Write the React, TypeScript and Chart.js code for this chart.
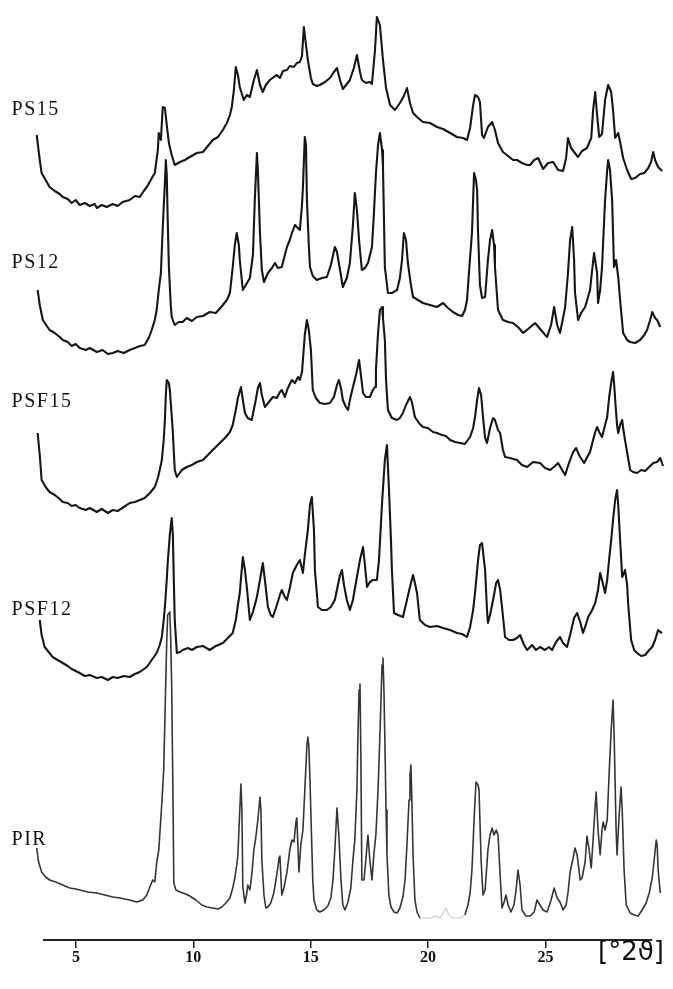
import React, { useEffect, useRef } from 'react';
import { Chart, registerables } from 'chart.js';

Chart.register(...registerables);

// ---- axis / labels ----
const TWO_THETA_TICKS = [5, 10, 15, 20, 25];
const X_MIN = 3.3;
const X_MAX = 30.05;
const AXIS_START = 3.6;
const AXIS_END = 29.55;
const AXIS_TITLE = '[°2ϑ]';
const SERIES_NAMES = ['PS15', 'PS12', 'PSF15', 'PSF12', 'PIR'];
const LABEL_2THETA = 2.26;
const LABEL_LEVEL = [830, 677, 538, 330, 100];
const PIR_FAINT_FROM = 19.6;
const PIR_FAINT_TO = 21.6;

// ---- PS15 ----
const PS15_X = [3.33,3.46,3.54,3.71,3.88,4.10,4.31,4.44,4.65,4.82,
4.99,5.16,5.38,5.59,5.80,5.89,6.10,6.31,6.57,6.78,
6.99,7.29,7.51,7.72,7.89,8.02,8.19,8.36,8.49,8.53,
8.62,8.70,8.79,8.87,8.96,9.08,9.21,9.43,9.64,9.85,
10.15,10.41,10.62,10.83,11.05,11.26,11.43,11.56,11.64,11.73,
11.81,11.90,11.98,12.15,12.28,12.41,12.58,12.71,12.84,12.96,
13.09,13.26,13.43,13.56,13.69,13.82,13.99,14.11,14.29,14.41,
14.54,14.63,14.71,14.80,14.88,15.01,15.09,15.26,15.39,15.61,
15.82,15.99,16.12,16.25,16.37,16.54,16.67,16.84,16.97,17.10,
17.18,17.35,17.52,17.61,17.74,17.82,17.95,18.08,18.21,18.38,
18.59,18.80,18.97,19.10,19.23,19.36,19.53,19.78,20.08,20.38,
20.64,20.94,21.23,21.49,21.66,21.79,21.92,22.00,22.13,22.21,
22.30,22.38,22.55,22.73,22.85,22.98,23.19,23.41,23.62,23.79,
24.00,24.22,24.35,24.52,24.69,24.90,25.11,25.33,25.54,25.75,
25.88,25.96,26.09,26.22,26.39,26.56,26.77,26.95,27.03,27.12,
27.20,27.29,27.41,27.54,27.67,27.80,27.88,27.97,28.10,28.18,
28.31,28.48,28.65,28.82,29.03,29.21,29.38,29.50,29.59,29.67,
29.80,29.97];
const PS15_Y = [805,780,767,760,753,749,746,743,741,737,
740,735,737,734,736,732,735,733,736,734,
738,740,744,743,749,753,760,767,790,807,
800,833,832,815,797,785,775,778,780,783,
787,788,794,800,803,810,817,825,833,850,
873,865,853,840,845,843,860,870,855,848,
855,860,863,865,862,869,870,874,873,877,
878,884,913,895,880,862,856,854,855,858,
862,868,872,860,851,856,860,872,885,868,
860,857,858,856,890,923,915,880,852,835,
830,837,844,852,837,827,823,818,817,813,
811,807,803,802,800,812,835,845,843,838,
805,802,813,818,810,797,788,784,780,780,
777,775,775,780,782,771,777,778,770,769,
782,802,792,788,783,789,792,802,830,848,
825,803,806,840,855,848,830,802,807,798,
782,770,761,762,766,767,772,778,788,780,
773,769];

// ---- PS12 ----
const PS12_X = [3.37,3.46,3.59,3.76,3.88,4.10,4.31,4.44,4.65,4.82,
4.99,5.16,5.42,5.59,5.89,6.14,6.36,6.57,6.78,7.04,
7.29,7.51,7.72,7.93,8.10,8.23,8.36,8.44,8.53,8.62,
8.70,8.79,8.83,8.87,8.91,8.96,9.04,9.08,9.21,9.38,
9.55,9.72,9.94,10.15,10.41,10.70,10.96,11.26,11.43,11.56,
11.68,11.77,11.85,11.94,11.98,12.11,12.24,12.41,12.54,12.62,
12.71,12.75,12.84,12.92,13.01,13.18,13.35,13.48,13.60,13.77,
13.90,13.99,14.11,14.20,14.33,14.41,14.54,14.63,14.67,14.75,
14.80,14.84,14.92,14.97,15.09,15.26,15.48,15.69,15.86,16.03,
16.12,16.25,16.37,16.54,16.67,16.80,16.88,16.97,17.06,17.18,
17.31,17.44,17.61,17.69,17.78,17.87,17.95,18.04,18.08,18.16,
18.29,18.46,18.68,18.80,18.89,18.97,19.06,19.14,19.27,19.36,
19.57,19.78,20.08,20.38,20.64,20.85,21.06,21.28,21.45,21.57,
21.66,21.75,21.87,21.96,22.04,22.09,22.13,22.21,22.30,22.43,
22.55,22.64,22.73,22.81,22.85,22.98,23.19,23.41,23.62,23.83,
24.05,24.26,24.56,24.81,25.07,25.24,25.37,25.50,25.62,25.75,
25.84,25.96,26.05,26.14,26.22,26.26,26.39,26.52,26.69,26.90,
26.99,27.07,27.20,27.24,27.33,27.41,27.54,27.63,27.67,27.75,
27.84,27.92,28.01,28.10,28.18,28.31,28.48,28.61,28.82,29.03,
29.21,29.33,29.46,29.55,29.67,29.76,29.89];
const PS12_Y = [650,635,620,614,610,607,603,600,598,594,
596,592,590,592,588,590,586,587,589,587,
590,592,594,595,602,610,620,630,650,667,
713,757,780,765,720,673,635,623,615,618,
618,622,619,623,624,628,627,635,640,647,
673,695,707,695,680,650,655,662,685,740,
787,770,707,670,658,667,672,677,672,673,
685,693,700,707,715,713,710,735,753,803,
795,740,695,673,664,660,662,663,675,693,
688,670,653,662,677,715,747,730,700,670,
672,677,693,725,767,795,807,790,773,673,
647,647,650,662,680,707,700,677,655,643,
640,637,635,633,637,632,628,625,624,630,
640,670,707,767,760,750,707,655,642,643,
680,700,710,695,673,630,620,618,617,613,
607,611,617,610,603,615,633,615,607,622,
633,667,700,713,680,647,620,627,633,650,
670,687,667,637,650,673,740,770,780,770,
740,673,680,663,640,607,600,598,597,600,
605,610,620,628,622,620,613];

// ---- PSF15 ----
const PSF15_X = [3.37,3.46,3.54,3.71,3.88,4.10,4.31,4.44,4.65,4.82,
4.99,5.16,5.42,5.59,5.89,6.10,6.36,6.57,6.78,7.04,
7.29,7.51,7.72,7.93,8.15,8.36,8.49,8.57,8.66,8.74,
8.79,8.83,8.87,8.96,9.00,9.08,9.13,9.21,9.30,9.51,
9.72,9.94,10.15,10.41,10.62,10.87,11.13,11.39,11.56,11.68,
11.81,11.90,12.03,12.11,12.20,12.32,12.49,12.66,12.75,12.84,
12.92,13.05,13.22,13.39,13.56,13.69,13.77,13.90,14.03,14.20,
14.33,14.46,14.54,14.63,14.67,14.75,14.84,14.92,15.01,15.09,
15.22,15.39,15.61,15.82,15.99,16.12,16.20,16.29,16.37,16.50,
16.59,16.67,16.80,16.93,17.06,17.14,17.23,17.35,17.52,17.65,
17.74,17.78,17.87,17.95,18.04,18.08,18.16,18.21,18.29,18.46,
18.68,18.80,18.93,19.06,19.23,19.31,19.44,19.61,19.78,19.99,
20.21,20.38,20.59,20.76,20.94,21.15,21.36,21.57,21.79,21.92,
22.00,22.09,22.17,22.26,22.34,22.43,22.51,22.64,22.77,22.85,
22.98,23.07,23.19,23.28,23.49,23.79,24.00,24.22,24.47,24.77,
24.98,25.20,25.41,25.54,25.71,25.84,25.96,26.05,26.18,26.31,
26.39,26.48,26.65,26.78,26.90,27.03,27.12,27.20,27.29,27.41,
27.54,27.63,27.71,27.80,27.88,27.93,27.97,28.05,28.10,28.18,
28.27,28.31,28.39,28.52,28.61,28.73,28.90,29.08,29.25,29.42,
29.59,29.76,29.89,30.01];
const PSF15_Y = [507,485,460,453,448,445,441,438,437,434,
435,432,430,432,428,431,427,430,429,433,
437,438,440,442,447,453,462,470,480,500,
520,545,560,557,550,525,507,470,463,470,
473,475,478,480,485,491,497,503,508,515,
530,542,553,540,527,522,520,540,552,557,
545,533,538,543,542,548,550,543,552,560,
557,563,560,568,580,605,620,610,590,550,
542,537,536,537,543,555,560,552,540,533,
530,540,553,565,580,565,547,543,543,550,
553,570,607,630,633,622,600,560,530,522,
520,522,527,535,543,538,523,517,513,512,
508,507,505,504,500,498,497,496,503,512,
523,540,552,545,523,502,497,512,522,520,
510,507,490,483,482,480,475,473,478,477,
472,470,474,477,470,465,474,480,488,492,
487,483,477,483,488,500,508,513,508,503,
515,523,542,557,568,555,540,515,507,515,
520,512,500,482,470,468,467,470,469,473,
477,478,482,474];

// ---- PSF12 ----
const PSF12_X = [3.46,3.54,3.67,3.84,4.01,4.22,4.44,4.65,4.82,4.99,
5.16,5.38,5.59,5.89,6.10,6.36,6.57,6.78,7.04,7.29,
7.51,7.72,8.02,8.23,8.44,8.57,8.66,8.74,8.79,8.87,
8.91,9.00,9.08,9.13,9.17,9.21,9.30,9.43,9.55,9.77,
9.94,10.15,10.41,10.70,10.96,11.26,11.47,11.68,11.81,11.90,
11.98,12.11,12.20,12.28,12.41,12.54,12.71,12.84,12.96,13.05,
13.18,13.30,13.39,13.56,13.69,13.77,13.90,13.99,14.11,14.24,
14.41,14.54,14.67,14.75,14.88,14.97,15.05,15.14,15.18,15.31,
15.48,15.69,15.86,16.03,16.16,16.25,16.33,16.42,16.54,16.67,
16.80,16.97,17.10,17.23,17.31,17.40,17.52,17.65,17.82,17.91,
18.04,18.16,18.25,18.33,18.42,18.46,18.55,18.72,18.93,19.10,
19.23,19.36,19.44,19.53,19.65,19.87,20.08,20.38,20.64,20.94,
21.23,21.45,21.66,21.79,21.92,22.00,22.13,22.21,22.30,22.38,
22.43,22.51,22.55,22.64,22.77,22.90,22.98,23.07,23.15,23.28,
23.45,23.62,23.79,23.92,24.09,24.22,24.43,24.60,24.77,24.98,
25.15,25.28,25.45,25.62,25.75,25.92,26.05,26.22,26.35,26.48,
26.60,26.73,26.82,26.99,27.12,27.24,27.33,27.41,27.54,27.63,
27.71,27.80,27.88,27.97,28.05,28.10,28.18,28.27,28.31,28.39,
28.48,28.52,28.65,28.78,28.90,29.08,29.25,29.42,29.55,29.67,
29.80,29.89,29.97];
const PSF12_Y = [320,305,293,288,283,280,277,274,271,269,
267,264,265,262,263,260,263,262,264,263,
266,268,273,280,287,295,303,320,333,360,
377,405,422,405,360,320,287,288,290,292,
290,293,294,290,294,297,302,307,320,335,
347,383,370,353,320,328,343,360,377,360,
333,325,323,335,345,350,343,340,352,367,
375,380,367,385,410,435,443,410,370,333,
330,330,333,340,355,365,370,355,340,330,
340,363,380,393,375,353,358,360,360,380,
437,480,495,453,400,370,327,325,323,340,
353,365,357,347,320,315,313,314,312,310,
307,306,303,313,330,347,380,395,397,380,
370,330,317,325,340,357,360,350,333,303,
300,300,302,305,295,290,295,290,293,290,
293,290,298,303,297,293,305,322,327,318,
307,316,323,330,337,350,367,360,347,360,
380,400,420,440,450,435,400,363,365,370,
355,337,300,290,287,284,285,290,293,300,
310,308,307];

// ---- PIR ----
const PIR_X = [3.33,3.41,3.54,3.71,3.88,4.14,4.44,4.74,4.99,5.16,
5.50,5.89,6.23,6.57,6.87,7.29,7.59,7.85,8.02,8.15,
8.27,8.36,8.44,8.53,8.66,8.74,8.79,8.87,8.91,9.00,
9.04,9.08,9.13,9.17,9.26,9.43,9.68,9.85,10.11,10.36,
10.58,10.83,11.05,11.22,11.39,11.56,11.68,11.77,11.85,11.90,
11.98,12.03,12.07,12.11,12.20,12.28,12.32,12.41,12.49,12.58,
12.66,12.75,12.84,12.88,12.92,13.01,13.09,13.18,13.30,13.43,
13.52,13.60,13.65,13.69,13.77,13.86,13.99,14.11,14.20,14.29,
14.37,14.41,14.50,14.58,14.67,14.75,14.84,14.88,14.92,14.97,
15.01,15.09,15.14,15.26,15.39,15.56,15.73,15.86,15.95,16.03,
16.12,16.20,16.29,16.37,16.46,16.59,16.71,16.80,16.88,16.97,
17.01,17.06,17.10,17.14,17.18,17.27,17.35,17.44,17.52,17.61,
17.69,17.78,17.87,17.95,18.04,18.08,18.12,18.16,18.21,18.25,
18.33,18.42,18.55,18.68,18.80,18.93,19.02,19.10,19.19,19.23,
19.27,19.31,19.36,19.44,19.53,19.65,20.08,20.33,20.50,20.68,
20.76,20.85,21.02,21.36,21.57,21.70,21.79,21.87,21.96,22.04,
22.13,22.17,22.26,22.34,22.43,22.55,22.64,22.73,22.81,22.90,
22.98,23.07,23.15,23.24,23.32,23.41,23.53,23.66,23.75,23.83,
23.92,24.00,24.17,24.35,24.52,24.64,24.77,24.90,25.07,25.24,
25.37,25.50,25.62,25.75,25.88,25.96,26.05,26.18,26.26,26.35,
26.48,26.56,26.69,26.77,26.86,26.95,27.03,27.12,27.16,27.24,
27.33,27.41,27.46,27.54,27.63,27.71,27.80,27.88,27.93,28.01,
28.05,28.14,28.22,28.27,28.35,28.44,28.61,28.78,28.95,29.12,
29.29,29.42,29.55,29.63,29.72,29.76,29.80,29.89];
const PIR_Y = [92,78,68,63,60,58,55,52,51,50,
48,47,45,43,42,40,38,40,45,53,
60,58,77,90,137,170,220,300,325,328,
300,253,153,57,50,48,46,44,40,35,
33,32,31,33,37,42,52,62,75,85,
130,156,130,53,37,47,55,50,65,90,
102,120,143,130,80,45,32,33,37,47,
60,72,82,84,45,52,68,90,100,98,
118,122,68,95,110,150,195,203,195,160,
125,60,40,30,28,30,34,42,60,90,
132,105,60,35,30,38,52,80,100,150,
200,250,256,180,60,60,80,105,80,60,
85,106,150,205,275,282,250,200,130,85,
45,33,28,27,32,43,60,95,140,165,
175,140,85,40,28,22,22,24,22,28,
32,27,22,22,25,35,47,70,120,158,
155,150,80,45,50,90,105,112,105,110,
105,65,32,38,45,35,28,35,50,70,
55,30,24,24,28,40,35,30,28,40,
52,42,38,30,35,47,68,82,92,85,
60,62,78,104,90,72,100,135,148,110,
85,110,118,110,120,165,210,240,200,110,
85,125,153,130,70,35,27,25,24,30,
37,47,62,80,100,95,70,47];

const SERIES_X = [PS15_X, PS12_X, PSF15_X, PSF12_X, PIR_X];
const SERIES_Y = [PS15_Y, PS12_Y, PSF15_Y, PSF12_Y, PIR_Y];

export default function App() {
  const canvasRef = useRef<HTMLCanvasElement | null>(null);

  useEffect(() => {
    const canvas = canvasRef.current;
    if (!canvas) return;

    const datasets = SERIES_NAMES.map((name, i) => {
      const isPir = name === 'PIR';
      return {
        label: name,
        data: SERIES_X[i].map((x, j) => ({ x, y: SERIES_Y[i][j] })),
        borderColor: isPir ? '#353535' : '#161616',
        borderWidth: isPir ? 1.6 : 2.1,
        pointRadius: 0,
        pointHoverRadius: 0,
        tension: 0,
        fill: false,
        clip: false,
        borderJoinStyle: 'round' as const,
        segment: isPir
          ? {
              borderColor: (ctx: any) =>
                ctx.p0.parsed.x >= PIR_FAINT_FROM && ctx.p1.parsed.x <= PIR_FAINT_TO
                  ? 'rgba(0,0,0,0.15)'
                  : undefined,
            }
          : undefined,
      };
    });

    const decor = {
      id: 'decor',
      afterDraw(chart: any) {
        const { ctx, chartArea, scales } = chart;
        const xs = scales.x;
        const ys = scales.y;
        ctx.save();
        ctx.strokeStyle = '#222';
        ctx.lineWidth = 2;
        ctx.beginPath();
        ctx.moveTo(xs.getPixelForValue(AXIS_START), chartArea.bottom);
        ctx.lineTo(xs.getPixelForValue(AXIS_END), chartArea.bottom);
        ctx.stroke();

        ctx.fillStyle = '#111';
        ctx.textAlign = 'left';
        ctx.textBaseline = 'middle';
        ctx.font = '20px "Liberation Serif", serif';
        try { (ctx as any).letterSpacing = '1.5px'; } catch (e) { /* ignore */ }
        SERIES_NAMES.forEach((n, i) => {
          ctx.fillText(n, xs.getPixelForValue(LABEL_2THETA), ys.getPixelForValue(LABEL_LEVEL[i]));
        });
        try { (ctx as any).letterSpacing = '0px'; } catch (e) { /* ignore */ }

        ctx.font = '26px "DejaVu Sans", sans-serif';
        ctx.textAlign = 'right';
        ctx.fillText(AXIS_TITLE, chartArea.right, chartArea.bottom + 13);
        ctx.restore();
      },
    };

    const chart = new Chart(canvas, {
      type: 'line',
      data: { datasets },
      options: {
        animation: false,
        responsive: false,
        events: [],
        layout: { padding: { left: 36, right: 9, top: 0, bottom: 19 } },
        plugins: { legend: { display: false }, tooltip: { enabled: false }, title: { display: false } },
        scales: {
          x: {
            type: 'linear',
            min: X_MIN,
            max: X_MAX,
            border: { display: false },
            grid: {
              display: true,
              drawOnChartArea: false,
              drawTicks: true,
              tickLength: 8,
              color: '#222',
              lineWidth: 1.5,
            },
            ticks: {
              color: '#111',
              padding: 0,
              maxRotation: 0,
              font: { family: '"Liberation Serif", serif', size: 16, weight: 'bold' },
            },
            afterBuildTicks: (scale: any) => {
              scale.ticks = TWO_THETA_TICKS.map((v) => ({ value: v }));
            },
            afterFit: (scale: any) => {
              scale.height = 30;
            },
          },
          y: {
            type: 'linear',
            display: false,
            min: 0,
            max: 940,
          },
        },
      },
      plugins: [decor],
    } as any);

    return () => chart.destroy();
  }, []);

  return (
    <div style={{ position: 'absolute', left: 0, top: 0, width: 673, height: 989, background: '#fff' }}>
      <canvas ref={canvasRef} width={673} height={989} style={{ display: 'block' }} />
    </div>
  );
}
